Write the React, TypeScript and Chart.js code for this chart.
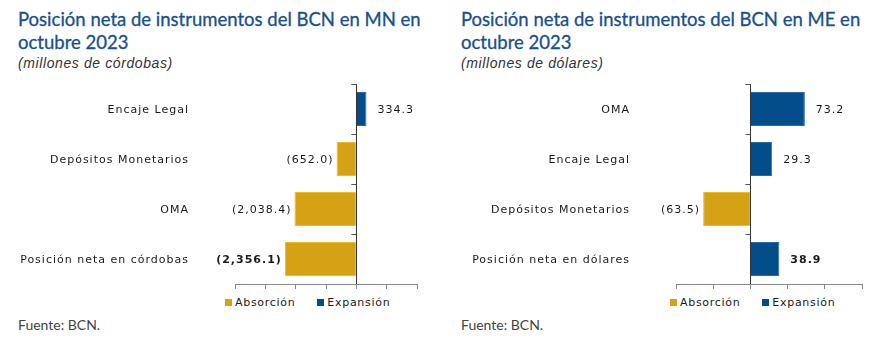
import React, { useEffect, useRef } from "react";
import { Chart, registerables } from "chart.js";

Chart.register(...registerables);

const mnCategories = ["Encaje Legal", "Depósitos Monetarios", "OMA", "Posición neta en córdobas"];
const mnValues = [334.3, -652.0, -2038.4, -2356.1];
const mnTicks = [-4000, -3000, -2000, -1000, 0, 1000, 2000];

const meCategories = ["OMA", "Encaje Legal", "Depósitos Monetarios", "Posición neta en dólares"];
const meValues = [73.2, 29.3, -63.5, 38.9];
const meTicks = [-100, -50, 0, 50, 100, 150];

const legendLabels = ["Absorción", "Expansión"];

const GOLD = "#D4A214";
const GOLD_BORDER = "#EDBD1E";
const BLUE = "#024D8A";
const BLUE_BORDER = "#2A6AA6";
const TITLE_BLUE = "#17508E";
const LABEL_FONT = '"DejaVu Sans", Verdana, sans-serif';
const TITLE_FONT = 'Lato, "Noto Sans", sans-serif';
const SUB_FONT = '"Liberation Sans", Arial, sans-serif';

function fmt(v: number): string {
  const s = Math.abs(v).toLocaleString("en-US", { minimumFractionDigits: 1, maximumFractionDigits: 1 });
  return v < 0 ? `(${s})` : s;
}

function BarChart(props: {
  categories: string[];
  values: number[];
  ticks: number[];
  yWidth: number;
  padRight: number;
  width: number;
}) {
  const ref = useRef<HTMLCanvasElement | null>(null);
  useEffect(() => {
    const { categories, values, ticks, yWidth, padRight } = props;
    const labelPlugin = {
      id: "valueLabels",
      afterDatasetsDraw(chart: any) {
        const ctx = chart.ctx;
        const meta = chart.getDatasetMeta(0);
        const xs = chart.scales.x;
        const ys = chart.scales.y;
        const area = chart.chartArea;
        const zeroX = xs.getPixelForValue(0);
        ctx.save();
        ctx.strokeStyle = "#555";
        ctx.lineWidth = 1;
        const band = (area.bottom - area.top) / categories.length;
        for (let k = 0; k < categories.length; k++) {
          const yy = Math.round(ys.getPixelForValue(k) - band / 2) + 0.5;
          ctx.beginPath();
          ctx.moveTo(zeroX - 5, yy);
          ctx.lineTo(zeroX, yy);
          ctx.stroke();
        }
        ctx.fillStyle = "#1a1a1a";
        ctx.textBaseline = "middle";
        (ctx as any).letterSpacing = "1px";
        ctx.font = "11px " + LABEL_FONT;
        ctx.textAlign = "right";
        categories.forEach((c, k) => {
          ctx.fillText(c, area.left - 46, ys.getPixelForValue(k) + 1);
        });
        meta.data.forEach((bar: any, i: number) => {
          const v = values[i];
          const last = i === values.length - 1;
          ctx.font = (last ? "bold " : "") + "11px " + LABEL_FONT;
          const p = bar.getProps(["x", "y"], true);
          if (v >= 0) {
            ctx.textAlign = "left";
            ctx.fillText(fmt(v), p.x + 11, p.y + 1);
          } else {
            ctx.textAlign = "right";
            ctx.fillText(fmt(v), p.x - 3, p.y + 1);
          }
        });
        ctx.restore();
      },
    };
    const chart = new Chart(ref.current as HTMLCanvasElement, {
      type: "bar",
      data: {
        labels: categories,
        datasets: [
          {
            data: values,
            backgroundColor: values.map((v) => (v < 0 ? GOLD : BLUE)),
            borderColor: values.map((v) => (v < 0 ? GOLD_BORDER : BLUE_BORDER)),
            borderWidth: 1,
            borderSkipped: "start",
            barPercentage: 0.68,
            categoryPercentage: 1,
          },
        ],
      },
      options: {
        indexAxis: "y",
        animation: false,
        responsive: false,
        maintainAspectRatio: false,
        layout: { padding: { top: 6, right: padRight, bottom: 0, left: 0 } },
        plugins: { legend: { display: false }, tooltip: { enabled: false } },
        scales: {
          x: {
            type: "linear",
            min: ticks[0],
            max: ticks[ticks.length - 1],
            afterBuildTicks: (s: any) => {
              s.ticks = ticks.map((v) => ({ value: v }));
            },
            afterFit: (s: any) => {
              s.height = 6;
              s.paddingLeft = 0;
              s.paddingRight = 0;
            },
            ticks: { display: false },
            grid: {
              display: true,
              drawOnChartArea: true,
              color: (c: any) => (c.tick && c.tick.value === 0 ? "#333" : "rgba(0,0,0,0)"),
              tickColor: "#888",
              tickLength: 5,
              lineWidth: 1,
            },
            border: { display: true, color: "#8a8a8a" },
          },
          y: {
            type: "category",
            afterFit: (s: any) => {
              s.width = yWidth;
              s.paddingTop = 0;
              s.paddingBottom = 0;
            },
            grid: { display: false, drawTicks: false },
            border: { display: false },
            ticks: { display: false },
          },
        },
      },
      plugins: [labelPlugin],
    } as any);
    return () => chart.destroy();
  }, []);
  return <canvas ref={ref} width={props.width} height={212} style={{ display: "block" }} />;
}

function Legend() {
  const item = (color: string, text: string, ml: number) => (
    <span style={{ display: "inline-flex", alignItems: "center", marginLeft: ml }}>
      <span style={{ width: 7, height: 7, background: color, display: "inline-block", marginRight: 3 }} />
      <span>{text}</span>
    </span>
  );
  return (
    <div
      style={{
        font: "11px " + LABEL_FONT,
        letterSpacing: "0.7px",
        color: "#1a1a1a",
        whiteSpace: "nowrap",
        lineHeight: "13px",
      }}
    >
      {item(GOLD, legendLabels[0], 0)}
      {item(BLUE, legendLabels[1], 22)}
    </div>
  );
}

function Panel(props: {
  left: number;
  width: number;
  titleLeft: number;
  title: string[];
  subtitle: string;
  categories: string[];
  values: number[];
  ticks: number[];
  yWidth: number;
  padRight: number;
  legendLeft: number;
}) {
  return (
    <div style={{ position: "absolute", left: props.left, top: 0, width: props.width, height: 351 }}>
      <div
        style={{
          position: "absolute",
          left: props.titleLeft,
          top: 8,
          font: "18.5px " + TITLE_FONT,
          lineHeight: "23px",
          color: TITLE_BLUE,
          WebkitTextStroke: "0.3px " + TITLE_BLUE,
          whiteSpace: "nowrap",
        }}
      >
        <div>{props.title[0]}</div>
        <div>{props.title[1]}</div>
      </div>
      <div
        style={{
          position: "absolute",
          left: props.titleLeft,
          top: 55,
          font: "italic 14px " + SUB_FONT,
          letterSpacing: "0.6px",
          lineHeight: "17px",
          color: "#333",
          whiteSpace: "nowrap",
        }}
      >
        {props.subtitle}
      </div>
      <div style={{ position: "absolute", left: 0, top: 78, width: props.width, height: 212 }}>
        <BarChart
          categories={props.categories}
          values={props.values}
          ticks={props.ticks}
          yWidth={props.yWidth}
          padRight={props.padRight}
          width={props.width}
        />
      </div>
      <div style={{ position: "absolute", left: props.legendLeft, top: 296 }}>
        <Legend />
      </div>
      <div
        style={{
          position: "absolute",
          left: props.titleLeft,
          top: 316,
          font: "14px " + TITLE_FONT,
          lineHeight: "17px",
          color: "#444",
          whiteSpace: "nowrap",
        }}
      >
        Fuente: BCN.
      </div>
    </div>
  );
}

export default function App() {
  return (
    <div style={{ position: "absolute", left: 0, top: 0, width: 887, height: 351, background: "#fff", overflow: "hidden" }}>
      <Panel
        left={0}
        width={440}
        titleLeft={18}
        title={["Posición neta de instrumentos del BCN en MN en", "octubre 2023"]}
        subtitle="(millones de córdobas)"
        categories={mnCategories}
        values={mnValues}
        ticks={mnTicks}
        yWidth={235}
        padRight={23}
        legendLeft={225}
      />
      <Panel
        left={440}
        width={447}
        titleLeft={21}
        title={["Posición neta de instrumentos del BCN en ME en", "octubre 2023"]}
        subtitle="(millones de dólares)"
        categories={meCategories}
        values={meValues}
        ticks={meTicks}
        yWidth={236}
        padRight={25}
        legendLeft={230}
      />
    </div>
  );
}
